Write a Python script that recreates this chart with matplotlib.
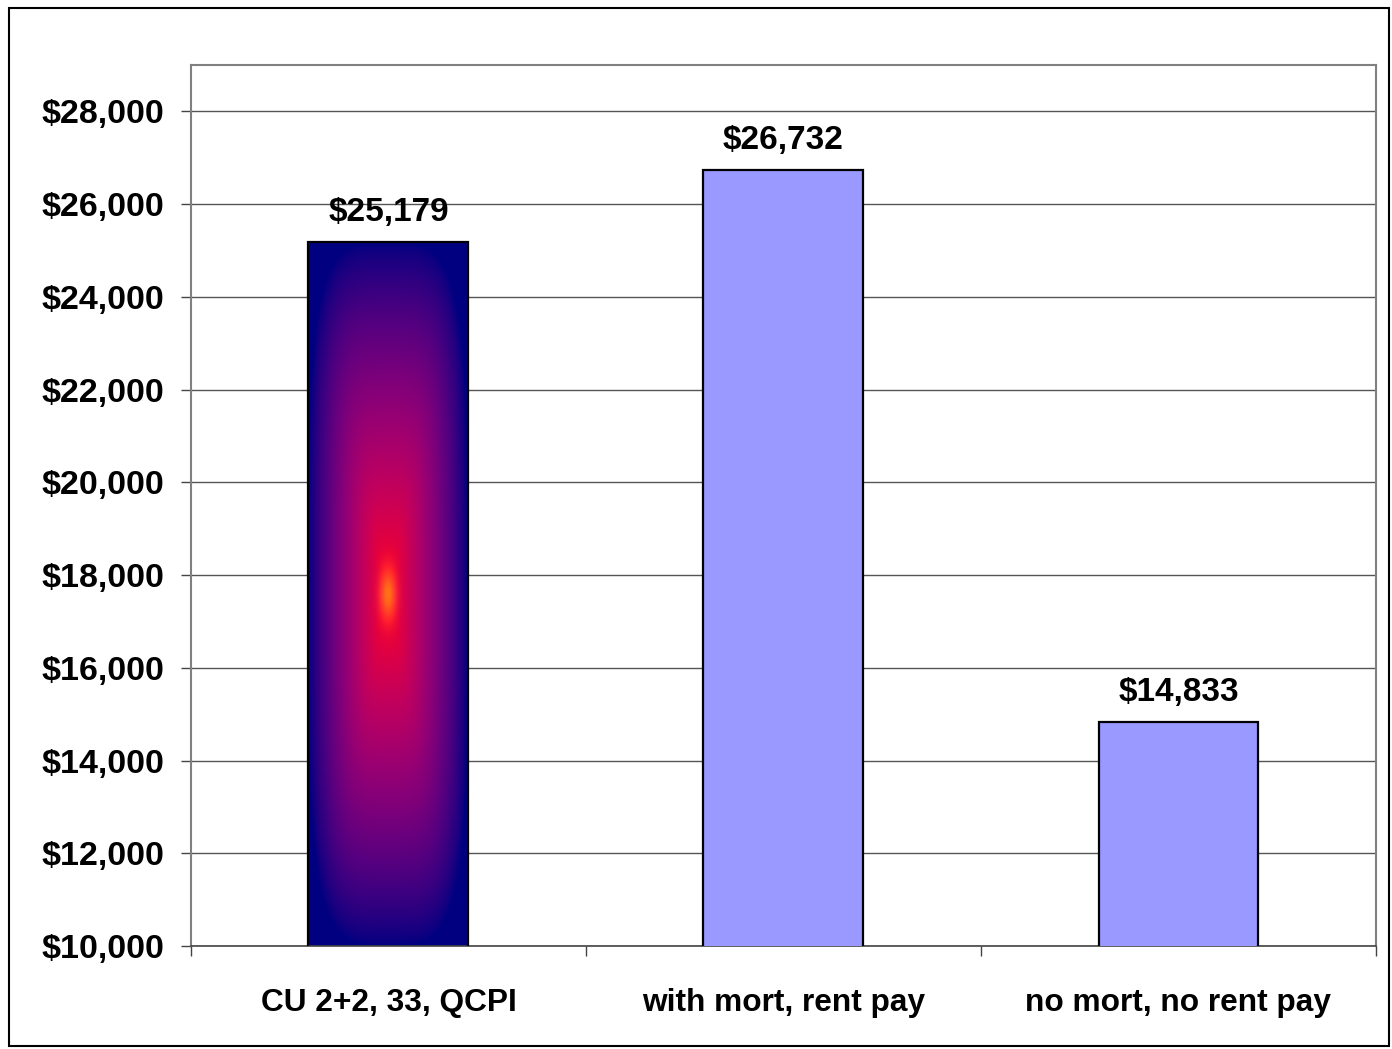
import matplotlib.pyplot as plt
from matplotlib.patches import Rectangle
from matplotlib.ticker import FuncFormatter, MultipleLocator
import numpy as np

categories = ["CU 2+2, 33, QCPI", "with mort, rent pay", "no mort, no rent pay"]
values = [25179, 26732, 14833]

plt.rcParams['font.family'] = ['Liberation Sans', 'DejaVu Sans']
plt.rcParams['font.weight'] = 'bold'

FS = 22.8
BAR_W = 0.405
Y_MIN, Y_MAX = 10000, 29000

fig = plt.figure(figsize=(13.92, 10.49), dpi=100, facecolor='white')
ax = fig.add_axes([0.1372, 0.0982, 0.8513, 0.8398])

x = np.arange(len(categories))
colors = ['none', '#9999FF', '#9999FF']
bars = ax.bar(x, values, width=BAR_W, color=colors, edgecolor='black',
              linewidth=1.6, zorder=3)

# "from center" gradient for the first bar (red core fading to navy)
b0 = bars[0]
bx0, by0 = b0.get_x(), Y_MIN
bx1, by1 = b0.get_x() + b0.get_width(), b0.get_height()
ny, nx = 400, 120
gy, gx = np.mgrid[-1:1:ny * 1j, -1:1:nx * 1j]
t = (np.abs(gx) ** 4 + np.abs(gy) ** 4) ** 0.25
t = np.clip(t, 0, 1)
img = np.zeros((ny, nx, 3))
img[..., 0] = (1 - t) ** 0.75
img[..., 2] = (128 / 255) * t ** 0.45 + 0.08 * np.sin(np.pi * t)
img[..., 2] = np.clip(img[..., 2], 0, 1)
# small hot spot in the middle
hot = np.exp(-((gx / 0.1) ** 2 + (gy / 0.07) ** 2))
img[..., 0] = np.clip(img[..., 0] + 0.2 * hot, 0, 1)
img[..., 1] = np.clip(img[..., 1] + 0.45 * hot, 0, 1)
im = ax.imshow(img, extent=[bx0, bx1, by0, by1], aspect='auto',
               origin='lower', zorder=2, interpolation='bilinear')
im.set_clip_path(b0)

for xi, v in zip(x, values):
    ax.annotate(f"${v:,.0f}", (xi, v), xytext=(0, 10), textcoords='offset points',
                ha='center', va='bottom', fontsize=24, fontweight='bold')

ax.set_xlim(-0.5, len(categories) - 0.5)
ax.set_ylim(Y_MIN, Y_MAX)
ax.yaxis.set_major_locator(MultipleLocator(2000))
ax.yaxis.set_major_formatter(FuncFormatter(lambda v, p: f"${v:,.0f}"))
ax.grid(axis='y', color='#555555', linewidth=1.0, zorder=1)

ax.set_xticks(x)
ax.set_xticklabels(categories)
ax.set_xticks(np.arange(-0.5, len(categories)), minor=True)
ax.tick_params(axis='x', which='major', length=0, pad=30, labelsize=FS)
ax.tick_params(axis='x', which='minor', length=7, width=1, direction='out', color='#444444')
ax.tick_params(axis='y', length=7, width=1, direction='out', pad=12,
               labelsize=24.5, color='#444444')

for s in ['left', 'top', 'right']:
    ax.spines[s].set_color('#808080')
    ax.spines[s].set_linewidth(1.5)
ax.spines['bottom'].set_color('#444444')
ax.spines['bottom'].set_linewidth(1.2)

fig.patches.append(Rectangle((9 / 1392, 3 / 1049), 1380 / 1392, 1038 / 1049,
                             transform=fig.transFigure, fill=False,
                             edgecolor='black', linewidth=1.5))

fig.savefig('out.png', dpi=100, facecolor='white')
